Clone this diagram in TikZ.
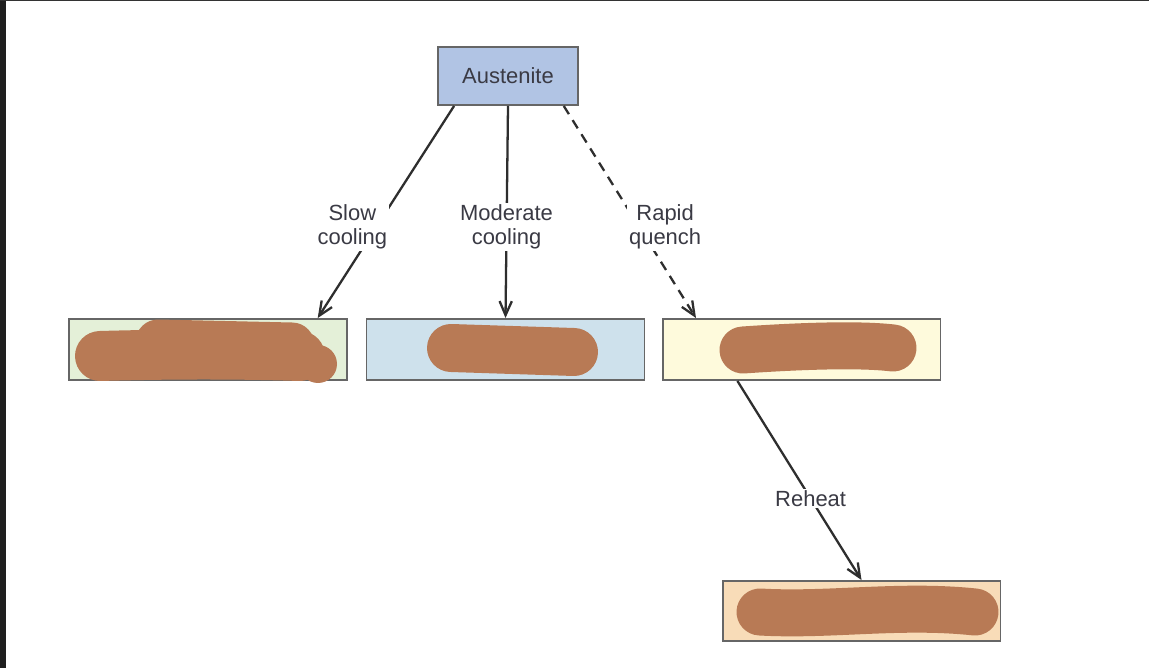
\documentclass[tikz,border=0pt]{standalone}
\usepackage{fontspec}
\setmainfont{Liberation Sans}
\usetikzlibrary{arrows.meta,calc}
\definecolor{austblue}{HTML}{B1C4E4}
\definecolor{pearlgreen}{HTML}{E4F0D8}
\definecolor{bainblue}{HTML}{CEE1EC}
\definecolor{martyellow}{HTML}{FEFADC}
\definecolor{tempered}{HTML}{F8DCB8}
\definecolor{smudge}{HTML}{B87A55}
\definecolor{ink}{HTML}{3A3A44}
\tikzset{
  phase/.style={draw=black!60, line width=1.1pt, inner sep=0pt, minimum width=5.56cm, minimum height=1.22cm},
  path lbl/.style={fill=white, text=ink, align=center, inner sep=1pt, font=\fontsize{12.5}{13.7}\selectfont},
  flow/.style={draw=black!82, line width=1.3pt, -{Straight Barb[length=8pt,width=7pt]}},
  blob/.style={smudge, line cap=round}
}
\begin{document}
\begin{tikzpicture}[x=0.02cm, y=-0.02cm]
        \useasboundingbox (0,0) rectangle (1149,668);
        \fill[white] (0,0) rectangle (1149,668);
        % screenshot edges
        \fill[black!88] (0,0) rectangle (6,668);
        \fill[black!80] (0,0) rectangle (1149,1.5);

        \draw (508,76) node[phase, fill=austblue, minimum width=2.8cm, minimum height=1.16cm, text=ink, font=\fontsize{12.5}{14}\selectfont] (aus) {Austenite};
        \draw (208,349.5) node[phase, fill=pearlgreen] (pearl) {};
        \draw (505.5,349.5) node[phase, fill=bainblue] (bain) {};
        \draw (801.5,349.5) node[phase, fill=martyellow] (mart) {};
        \draw (861.5,611) node[phase, fill=tempered, minimum height=1.2cm] (temp) {};

        % scribbled-over names
        \draw[blob, line width=1.0cm] (100,356) .. controls (170,354) and (240,354) .. (300,356);
        \draw[blob, line width=0.9cm] (158,342) -- (292,345);
        \fill[smudge] (318,364) circle (0.38cm);
        \draw[blob, line width=0.96cm] (451,348) -- (574,352);
        \draw[blob, line width=0.94cm] (743,350) .. controls (800,346) and (860,344) .. (893,348);
        \draw[blob, line width=0.94cm] (760,612) .. controls (830,616) and (900,604) .. (975,612);

        \draw[flow] ($(aus.south west)!0.12!(aus.south east)$) -- node[path lbl, pos=0.57, xshift=-0.48cm] {Slow\\cooling} ($(pearl.north west)!0.892!(pearl.north east)$);
        \draw[flow] (aus.south) -- node[path lbl, pos=0.57] {Moderate\\cooling} (bain.north);
        \draw[flow, dash pattern=on 5.5pt off 4pt] ($(aus.south west)!0.893!(aus.south east)$) -- node[path lbl, pos=0.57, xshift=0.52cm] {Rapid\\quench} ($(mart.north west)!0.123!(mart.north east)$);
        \draw[flow] ($(mart.south west)!0.271!(mart.south east)$) -- node[path lbl, pos=0.59] {Reheat} (temp.north);
\end{tikzpicture}
\end{document}
